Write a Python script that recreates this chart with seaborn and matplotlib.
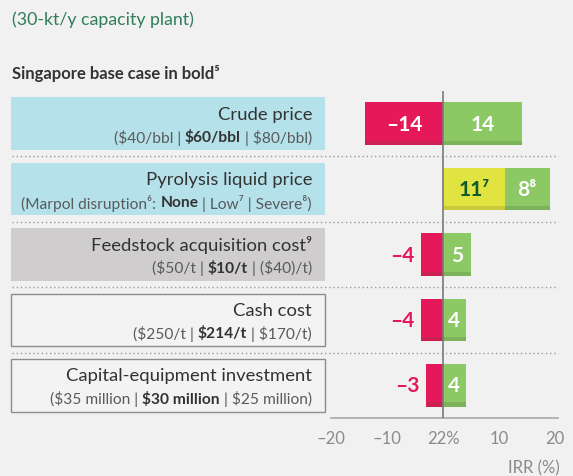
"""
IRR sensitivity (tornado) for a 30-kt/y pyrolysis plant, Singapore base case.
"""

import matplotlib.pyplot as plt
import numpy as np
import pandas as pd
import seaborn as sns
from matplotlib.patches import Rectangle
from matplotlib.transforms import blended_transform_factory, offset_copy

factors = ['Crude price', 'Pyrolysis liquid price', 'Feedstock acquisition cost⁹',
           'Cash cost', 'Capital-equipment investment']
ranges = ['($40/bbl | **$60/bbl** | $80/bbl)',
          '(Marpol disruption⁶: **None** | Low⁷ | Severe⁸)',
          '($50/t | **$10/t** | ($40)/t)',
          '($250/t | **$214/t** | $170/t)',
          '($35 million | **$30 million** | $25 million)']
downside = [-14, 0, -4, -4, -3]
upside = [14, 0, 5, 4, 4]
marpol_low = [0, 11, 0, 0, 0]
marpol_severe = [0, 8, 0, 0, 0]
tick_values = [-20, -10, 0, 10, 20]
tick_labels = ['–20', '–10', '22%', '10', '20']

BG = '#f1f1f1'
RED, RED_D = '#e5195a', '#cc1f52'
GREEN, GREEN_D = '#8cc864', '#7cb25a'
YELLOW, YELLOW_D = '#e0e340', '#c9c93c'
box_fill = ['#b5e1eb', '#b5e1eb', '#cfcdcd', '#f3f3f3', '#f3f3f3']
box_edge = ['none', 'none', 'none', '#8c8c8c', '#8c8c8c']

sns.set_theme(style='white')
plt.rcParams['font.family'] = ['Lato', 'DejaVu Sans']

df = pd.DataFrame({'factor': factors, 'down': downside, 'up': upside,
                   'low': marpol_low, 'severe': marpol_severe})
df['green'] = df['up'] + df['low'] + df['severe']

fig = plt.figure(figsize=(5.73, 4.77), dpi=100)
fig.patch.set_facecolor(BG)
ax = fig.add_axes([331 / 573, 58 / 477, 227 / 573, 327 / 477])
ax.patch.set_visible(False)

BAR_H = 0.654
kw = dict(orient='h', saturation=1, width=BAR_H, linewidth=0, errorbar=None, ax=ax)
sns.barplot(data=df, x='green', y='factor', color=GREEN, **kw)
sns.barplot(data=df, x='low', y='factor', color=YELLOW, **kw)
sns.barplot(data=df, x='down', y='factor', color=RED, **kw)

# darker strip along the bottom of each bar
pos = np.arange(len(df))
STRIP = 0.065
ys = pos + BAR_H / 2 - STRIP / 2
ax.barh(ys, df['up'], height=STRIP, color=GREEN_D, lw=0)
ax.barh(ys, df['down'], height=STRIP, color=RED_D, lw=0)
ax.barh(ys, df['low'], height=STRIP, color=YELLOW_D, lw=0)
ax.barh(ys, df['severe'], left=df['low'], height=STRIP, color=GREEN_D, lw=0)

ax.set_xlim(-20, 20.5)
ax.set_ylim(len(df) - 0.5, -0.5)
ax.set_xticks(tick_values)
ax.set_xticklabels(tick_labels, color='#8a8a8a', fontsize=12)
ax.set_yticks([])
ax.set_xlabel('')
ax.set_ylabel('')
ax.tick_params(axis='x', length=0, pad=9)
for s in ['top', 'left', 'right']:
    ax.spines[s].set_visible(False)
ax.spines['bottom'].set_color('#aaaaaa')
ax.spines['bottom'].set_linewidth(1.2)
ax.axvline(0, color='#7a7a7a', lw=1.2, zorder=5)

for i in range(len(df) - 1):
    ax.axhline(i + 0.5, xmin=-1.407, xmax=1.0, clip_on=False, color='#9a9a9a',
               lw=1, ls=(0, (1, 2)))

# bar labels
lab = dict(ha='center', va='center', fontweight='bold', fontsize=15)
for i, r in df.iterrows():
    if r['down'] < 0:
        if r['down'] <= -10:
            ax.text(r['down'] / 2, i, f"–{-r['down']}", color='white', **lab)
        else:
            ax.text(r['down'] - 1.1, i, f"–{-r['down']}", color=RED,
                    **{**lab, 'ha': 'right'})
    if r['up'] > 0:
        ax.text(r['up'] / 2, i, str(r['up']), color='white', **lab)
    if r['low'] > 0:
        ax.text(r['low'] / 2, i, f"{r['low']}⁷", color='#0d5a2c', **lab)
        ax.text(r['low'] + r['severe'] / 2, i, f"{r['severe']}⁸", color='white', **lab)

# label boxes on the left
tr = blended_transform_factory(ax.transAxes, ax.transData)
renderer = fig.canvas.get_renderer()
BOX_H = 0.807
for i, (name, rng) in enumerate(zip(factors, ranges)):
    ax.add_patch(Rectangle((-1.411, i - BOX_H / 2), 1.3845, BOX_H, transform=tr,
                           facecolor=box_fill[i], edgecolor=box_edge[i], lw=1,
                           clip_on=False))
    ax.text(0, i, name, transform=offset_copy(tr, fig=fig, x=-19, y=10, units='dots'),
            ha='right', va='center', fontsize=13.3, color='#333333')
    parts = rng.split('**')
    x_off = 19
    for k in reversed(range(len(parts))):
        bold = k % 2 == 1
        t = ax.text(0, i, parts[k],
                    transform=offset_copy(tr, fig=fig, x=-x_off, y=-13, units='dots'),
                    ha='right', va='center', fontsize=11.2,
                    fontweight='bold' if bold else 'normal',
                    color='#333333' if bold else '#5a5a5a')
        x_off += t.get_window_extent(renderer).width

fig.text(12 / 573, 1 - 20 / 477, '(30-kt/y capacity plant)', color='#2f7d5c',
         fontsize=12.8, va='center', ha='left')
fig.text(12 / 573, 1 - 73 / 477, 'Singapore base case in bold⁵', color='#333333',
         fontsize=12, fontweight='bold', va='center', ha='left')
fig.text(560 / 573, 1 - 468 / 477, 'IRR (%)', color='#8a8a8a', fontsize=12,
         va='center', ha='right')

fig.savefig('out.png', dpi=100, facecolor=BG)
